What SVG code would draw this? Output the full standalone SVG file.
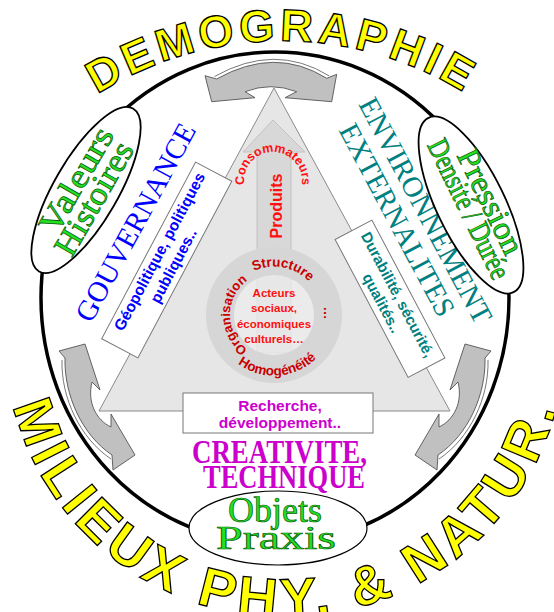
<svg xmlns="http://www.w3.org/2000/svg" xmlns:xlink="http://www.w3.org/1999/xlink" width="554" height="612" viewBox="0 0 554 612">
<defs>
<style>
.yl{font-family:"Liberation Sans",Arial,sans-serif;font-weight:bold;fill:#ffff00;stroke:#000;stroke-width:1.3}
.gr{font-family:"Liberation Serif","Times New Roman",serif;fill:#22e022;stroke:#0a5a0a;stroke-width:0.7}
.sans{font-family:"Liberation Sans",Arial,sans-serif;font-weight:bold}
.serif{font-family:"Liberation Serif","Times New Roman",serif}
.garr{fill:#c0c0c0;stroke:#555;stroke-width:0.9;stroke-linejoin:round}
.edge{fill:none;stroke:#555;stroke-width:0.8}
.box{fill:#fff;stroke:#777;stroke-width:1}
.ell{fill:#fff;stroke:#000}
.red{fill:#ff1010}
.dred{fill:#c80000}
</style>
<path id="pDemo" d="M58.95,122.2 A347,347 0 0 1 505.05,122.2"/>
<path id="pBot" d="M8.8,385.7 A280.5,280.5 0 0 0 562.8,298"/>
<path id="pCons" d="M245.75,190.9 A29,29 0 1 1 300.25,190.9"/>
<path id="pStruct" d="M226.56,304.92 A48.5,48.5 0 0 1 321.76,323.42"/>
<path id="pOrg" d="M272.5,357.5 A42.5,42.5 0 0 1 272.5,272.5"/>
<path id="pHomo" d="M213.73,320.27 A60.5,60.5 0 0 0 334.42,311.83"/>
</defs>
<rect width="554" height="612" fill="#fff"/>

<ellipse id="cercle" cx="275" cy="298" rx="234" ry="246" fill="none" stroke="#000" stroke-width="3.5"/>

<g id="connectors">
  <g id="arrow-top">
    <path class="garr" d="M216.7,79 Q275,46 326.7,78.3 L336.7,74.3 L331.7,101.7 L285,97.7 L296.7,91.7 Q270.85,81.7 245,91.7 L255,97.7 L211.7,101.7 L205,75.7 Z"/>
    <path class="edge" d="M214.5,76.5 Q275,42.5 329,75.8"/>
  </g>
  <g id="arrow-left">
    <path class="garr" d="M65,358 C64,395 82,435 112,455 L113,470 L135,455 L111,414 L111,427 C96,420 87,402 92,382 L100,390 L85,344 L59,351 Z"/>
    <path class="edge" d="M62,360 C61,398 80,438 111,459"/>
  </g>
  <g id="arrow-right" transform="translate(550,0) scale(-1,1)">
    <path class="garr" d="M65,358 C64,395 82,435 112,455 L113,470 L135,455 L111,414 L111,427 C96,420 87,402 92,382 L100,390 L85,344 L59,351 Z"/>
    <path class="edge" d="M62,360 C61,398 80,438 111,459"/>
  </g>
</g>

<g id="triangle">
  <polygon points="274,88 99,411 450,411" fill="#e6e6e6" stroke="#8a8a8a" stroke-width="1"/>
  <path d="M273,120 L305,152 L291,152 L291,353 L257,353 L257,152 L243,152 Z" fill="#d8d8d8" stroke="#c2c2c2" stroke-width="1"/>
  <path d="M206,315 a68,68 0 1,0 136,0 a68,68 0 1,0 -136,0 Z M234,315 a40,40 0 1,1 80,0 a40,40 0 1,1 -80,0 Z" fill="#d6d6d6" fill-rule="evenodd"/>
  <circle cx="274" cy="315" r="40" fill="#ededed" opacity="0.72"/>
</g>

<g id="centre" class="sans">
  <text class="red" font-size="12.5" text-anchor="middle"><textPath href="#pCons" startOffset="50%">Consommateurs</textPath></text>
  <text class="red" font-size="16" text-anchor="middle" transform="translate(282,206) rotate(-90)">Produits</text>
  <text class="dred" font-size="13.5" text-anchor="middle"><textPath href="#pStruct" startOffset="50%">Structure</textPath></text>
  <text class="dred" font-size="13" text-anchor="middle"><textPath href="#pOrg" startOffset="50%">Organisation</textPath></text>
  <text class="dred" font-size="13.5" text-anchor="middle"><textPath href="#pHomo" startOffset="50%">Homogénéité</textPath></text>
  <text class="dred" font-size="13" text-anchor="middle" transform="translate(324,313) rotate(90)">…</text>
  <g class="red" font-size="11.5" text-anchor="middle">
    <text x="274" y="297">Acteurs</text>
    <text x="274" y="312">sociaux,</text>
    <text x="274" y="328">économiques</text>
    <text x="274" y="343">culturels…</text>
  </g>
</g>

<g id="gouvernance">
  <text class="serif" font-size="29" fill="#0000ff" text-anchor="middle" transform="translate(144,227) rotate(-61.5)">GOUVERNANCE</text>
  <g transform="translate(166.75,260) rotate(-62)">
    <rect class="box" x="-100" y="-20.5" width="200" height="41"/>
    <text class="sans" font-size="15.5" fill="#0000ff" text-anchor="middle" x="4" y="-5">Géopolitique, politiques</text>
    <text class="sans" font-size="15.5" fill="#0000ff" text-anchor="middle" x="-2" y="14">publiques..</text>
  </g>
</g>

<g id="environnement">
  <text class="serif" font-size="29" fill="#008080" text-anchor="middle" transform="translate(417,215) rotate(62)">ENVIRONNEMENT</text>
  <text class="serif" font-size="29" fill="#008080" text-anchor="middle" transform="translate(388.6,224.5) rotate(62)">EXTERNALITES</text>
  <g transform="translate(390,298.75) rotate(62.1)">
    <rect class="box" x="-78" y="-20.8" width="156" height="41.6"/>
    <text class="sans" font-size="15" fill="#008080" text-anchor="middle" x="0" y="-3.5">Durabilité, sécurité,</text>
    <text class="sans" font-size="15" fill="#008080" text-anchor="middle" x="0" y="14.5">qualités..</text>
  </g>
</g>

<g id="creativite">
  <rect class="box" x="183" y="393" width="190" height="40"/>
  <text class="sans" font-size="15.5" fill="#cc00cc" text-anchor="middle" x="280" y="410.5">Recherche,</text>
  <text class="sans" font-size="15.5" fill="#cc00cc" text-anchor="middle" x="280" y="428">développement..</text>
  <text class="serif" font-size="33" font-weight="bold" fill="#cc00cc" text-anchor="middle" x="279.5" y="463" textLength="175" lengthAdjust="spacingAndGlyphs">CREATIVITE,</text>
  <text class="serif" font-size="33" font-weight="bold" fill="#cc00cc" text-anchor="middle" x="284" y="488" textLength="162" lengthAdjust="spacingAndGlyphs">TECHNIQUE</text>
</g>

<g id="valeurs" transform="translate(86,190) rotate(-60)">
  <ellipse class="ell" cx="0" cy="0" rx="94" ry="32" stroke-width="1.8"/>
  <text class="gr" font-size="33" text-anchor="middle" x="3.7" y="-2.7" textLength="117" lengthAdjust="spacingAndGlyphs">Valeurs</text>
  <text class="gr" font-size="33" text-anchor="middle" x="-3.4" y="22" textLength="126" lengthAdjust="spacingAndGlyphs">Histoires</text>
</g>

<g id="pression" transform="translate(471,205) rotate(64)">
  <ellipse class="ell" cx="0" cy="0" rx="97" ry="34" stroke-width="1.8"/>
  <text class="gr" font-size="32" text-anchor="middle" x="5.4" y="-8.6" textLength="113" lengthAdjust="spacingAndGlyphs">Pression</text>
  <text class="gr" font-size="30" text-anchor="middle" x="2.7" y="13.5" textLength="152" lengthAdjust="spacingAndGlyphs">Densité / Durée</text>
</g>

<g id="objets">
  <ellipse class="ell" cx="278" cy="528" rx="89" ry="37" stroke-width="1.2"/>
  <text class="gr" font-size="36" text-anchor="middle" x="275" y="522">Objets</text>
  <text class="gr" font-size="34" text-anchor="middle" x="276" y="549" textLength="120" lengthAdjust="spacingAndGlyphs">Praxis</text>
</g>

<g id="demographie">
  <text class="yl" font-size="45" letter-spacing="4.5" text-anchor="middle"><textPath href="#pDemo" startOffset="50%">DEMOGRAPHIE</textPath></text>
</g>
<g id="milieux">
  <text class="yl" font-size="55" letter-spacing="5.1"><textPath href="#pBot" startOffset="21">MILIEUX PHY. &amp; NATUR.</textPath></text>
</g>
</svg>
